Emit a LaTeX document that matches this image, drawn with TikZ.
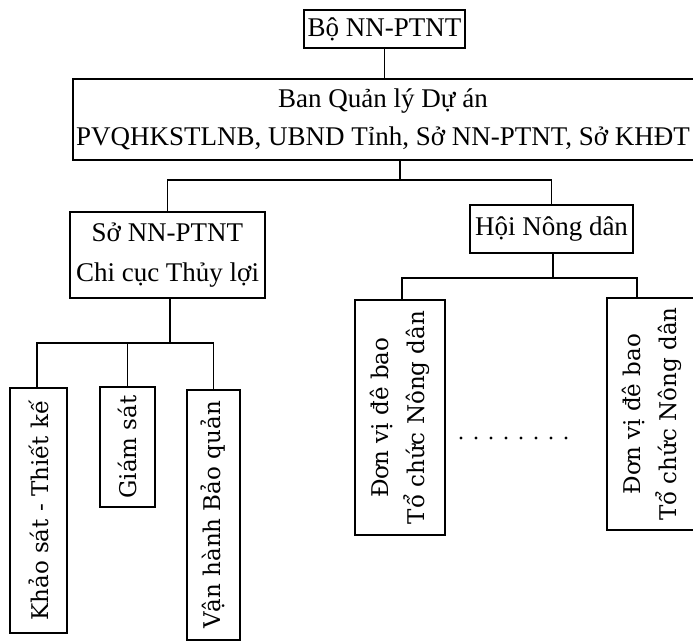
\documentclass[tikz,border=0pt]{standalone}
\usepackage{fontspec}
\setmainfont{Liberation Serif}
\newfontfamily\vfont{DejaVu Serif}
\begin{document}
\begin{tikzpicture}[x=1pt,y=-1pt,
  hbox/.style={draw,line width=1.3pt,inner sep=0pt,font=\fontsize{27}{40}\selectfont,align=center},
  vbox/.style={draw,line width=1.3pt,inner sep=0pt},
  vtext/.style={rotate=90,font=\vfont\fontsize{23}{36}\selectfont,align=center,inner sep=0pt},
  conn/.style={line width=1.3pt}]
\useasboundingbox (0,0) rectangle (693,643);
% top
\node[hbox,minimum width=161pt,minimum height=38pt] (top) at (384.5,29) {Bộ NN-PTNT};
\node[hbox,minimum width=627pt,minimum height=81pt] (ban) at (386.5,119.5) {};
\node[font=\fontsize{27}{30}\selectfont] (bant1) at (383,101) {Ban Quản lý Dự án};
\node[font=\fontsize{27}{30}\selectfont] (bant2) at (383,138) {PVQHKSTLNB, UBND Tỉnh, Sở NN-PTNT, Sở KHĐT};
\node[hbox,minimum width=195pt,minimum height=86pt] (so) at (167.5,255) {Sở NN-PTNT\\Chi cục Thủy lợi};
\node[hbox,minimum width=163pt,minimum height=48pt] (hoi) at (551.5,229) {Hội Nông dân};
% vertical boxes
\node[vbox,minimum width=57pt,minimum height=245pt] (ks) at (38.5,510.5) {};
\node[vtext] (kst) at (ks.center) {Khảo sát - Thiết kế};
\node[vbox,minimum width=55pt,minimum height=120pt] (gs) at (127.5,447) {};
\node[vtext] (gst) at (gs.center) {Giám sát};
\node[vbox,minimum width=53pt,minimum height=250pt] (vh) at (213.5,515) {};
\node[vtext] (vht) at (vh.center) {Vận hành Bảo quản};
\node[vbox,minimum width=90pt,minimum height=235pt] (d1) at (400,417.5) {};
\node[vtext] (d1t) at (d1.center) {Đơn vị đê bao\\Tổ chức Nông dân};
\node[vbox,minimum width=90pt,minimum height=232pt] (d2) at (652,414) {};
\node[vtext] (d2t) at (d2.center) {Đơn vị đê bao\\Tổ chức Nông dân};
% dots
\foreach \i in {0,...,7} \fill (461+\i*15,438) circle (1.6pt);
% junctions
\coordinate (j1) at (400,180);
\coordinate (j2) at (170,343);
\coordinate (j3) at (553,278);
\coordinate (d1top) at (402,300);
\coordinate (d2top) at (637,298);
\draw[conn] (top.south) -- (top.south |- ban.north);
\draw[conn] (ban.south -| j1) -- (j1);
\draw[conn] (so.north) |- (j1) -| (hoi.north);
\draw[conn] (so.south -| j2) -- (j2);
\draw[conn] (ks.north -| 37,0) |- (j2) -| (vh.north);
\draw[conn] (gs.north) -- (gs.north |- j2);
\draw[conn] (hoi.south -| j3) -- (j3);
\draw[conn] (d1top) |- (j3) -| (d2top);
\end{tikzpicture}
\end{document}
